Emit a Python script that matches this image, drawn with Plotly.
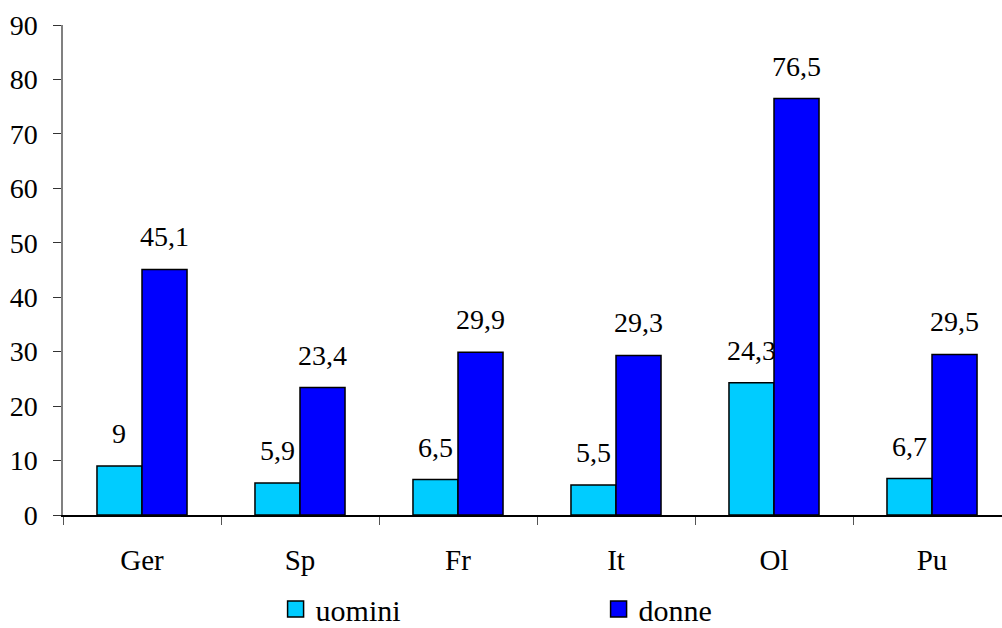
import plotly.graph_objects as go

categories = ["Ger", "Sp", "Fr", "It", "Ol", "Pu"]
uomini = [9, 5.9, 6.5, 5.5, 24.3, 6.7]
donne = [45.1, 23.4, 29.9, 29.3, 76.5, 29.5]
series_names = ["uomini", "donne"]
y_ticks = [0, 10, 20, 30, 40, 50, 60, 70, 80, 90]

colors = ["#00CCFF", "#0000FF"]
FONT = "'Times New Roman', 'Liberation Serif', serif"
bargap = 0.43
bw = (1 - bargap) / 2

fig = go.Figure()
for name, vals, col in zip(series_names, [uomini, donne], colors):
    fig.add_trace(go.Bar(
        x=categories, y=vals, name=name, showlegend=False,
        marker=dict(color=col, line=dict(color="black", width=1.5)),
    ))
# legend entries with larger square symbols
for name, col in zip(series_names, colors):
    fig.add_trace(go.Scatter(
        x=[None], y=[None], mode="markers", name=name,
        marker=dict(symbol="square", size=16, color=col,
                    line=dict(color="black", width=1.5)),
    ))

def fmt(v):
    return ("%g" % v).replace(".", ",")

annotations = []
for k, vals in enumerate([uomini, donne]):
    offset = (k - 0.5) * bw
    for i, v in enumerate(vals):
        annotations.append(dict(
            x=i + offset, y=v, xref="x", yref="y", text=fmt(v),
            showarrow=False, yanchor="bottom", yshift=15,
            font=dict(family=FONT, size=28, color="black"),
        ))

fig.update_layout(
    width=1002, height=628,
    margin=dict(l=63, r=0, t=25, b=113, autoexpand=False),
    paper_bgcolor="white", plot_bgcolor="white",
    barmode="group", bargap=bargap, bargroupgap=0,
    font=dict(family=FONT, size=28, color="black"),
    annotations=annotations,
    legend=dict(
        orientation="h", x=0.2264, xanchor="left", y=-0.192, yanchor="middle",
        entrywidth=278, entrywidthmode="pixels", itemsizing="trace",
        font=dict(family=FONT, size=30, color="black"),
    ),
    xaxis=dict(
        type="category", range=[-0.5, 5.443], automargin=False,
        showline=True, linecolor="black", linewidth=1.5,
        ticks="outside", tickson="boundaries", ticklen=8, tickcolor="#555555",
        tickfont=dict(family=FONT, size=29, color="black"),
        ticklabelstandoff=18, showgrid=False, zeroline=False,
    ),
    yaxis=dict(
        range=[0, 90], tickvals=y_ticks, automargin=False,
        showline=True, linecolor="#808080", linewidth=1.5,
        ticks="outside", ticklen=8, tickcolor="#333333",
        tickfont=dict(family=FONT, size=28, color="black"),
        ticklabelstandoff=10, showgrid=False, zeroline=False,
    ),
)

fig.write_html("out.html", config={"displayModeBar": False},
               post_script="document.body.style.margin='0';document.body.style.overflow='hidden';")
